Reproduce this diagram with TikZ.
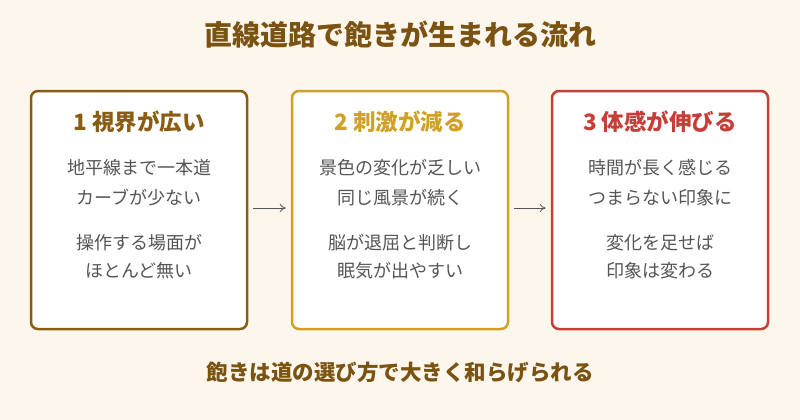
\documentclass[tikz,border=0pt]{standalone}
\usepackage{fontspec}
\usetikzlibrary{arrows.meta}
\setmainfont{Noto Sans CJK JP}
\definecolor{bg}{HTML}{FDF6EC}
\definecolor{ttl}{HTML}{7A5212}
\definecolor{cA}{HTML}{8A5C12}
\definecolor{cB}{HTML}{D1A126}
\definecolor{cC}{HTML}{C53F38}
\definecolor{txt}{HTML}{555555}
\begin{document}
\begin{tikzpicture}[x=1pt,y=-1pt,
  box/.style={draw,line width=2.5pt,rounded corners=7pt,fill=white},
  head/.style={font=\bfseries\fontsize{22.5}{26}\selectfont},
  body/.style={text=txt,font=\fontsize{18}{21}\selectfont},
  arr/.style={-{To[length=6pt,width=8pt]},draw=txt,line width=0.8pt}]
\useasboundingbox (0,0) rectangle (800,420);
\fill[bg] (0,0) rectangle (800,420);
\node[text=ttl,font=\bfseries\fontsize{28}{32}\selectfont] (title) at (400,35) {直線道路で飽きが生まれる流れ};
\foreach \n/\x/\c in {a/139/cA,b/400/cB,c/660/cC}{
  \node[box,draw=\c,minimum width=216pt,minimum height=238pt] (\n) at (\x,210) {};
}
\node[head,text=cA] (ha) at (139,122) {1 視界が広い};
\node[body] (a1) at (139,168) {地平線まで一本道};
\node[body] (a2) at (139,198) {カーブが少ない};
\node[body] (a3) at (139,243) {操作する場面が};
\node[body] (a4) at (139,271) {ほとんど無い};
\node[head,text=cB] (hb) at (400,122) {2 刺激が減る};
\node[body] (b1) at (400,168) {景色の変化が乏しい};
\node[body] (b2) at (400,198) {同じ風景が続く};
\node[body] (b3) at (400,243) {脳が退屈と判断し};
\node[body] (b4) at (400,271) {眠気が出やすい};
\node[head,text=cC] (hc) at (660,122) {3 体感が伸びる};
\node[body] (c1) at (660,168) {時間が長く感じる};
\node[body] (c2) at (660,198) {つまらない印象に};
\node[body] (c3) at (660,243) {変化を足せば};
\node[body] (c4) at (660,271) {印象は変わる};
\draw[arr] ([xshift=5pt]a.east |- 0,208) -- ([xshift=-5pt]b.west |- 0,208);
\draw[arr] ([xshift=5pt]b.east |- 0,208) -- ([xshift=-5pt]c.west |- 0,208);
\node[text=ttl,font=\bfseries\fontsize{21.5}{25}\selectfont] (foot) at (400,372) {飽きは道の選び方で大きく和らげられる};
\end{tikzpicture}
\end{document}
